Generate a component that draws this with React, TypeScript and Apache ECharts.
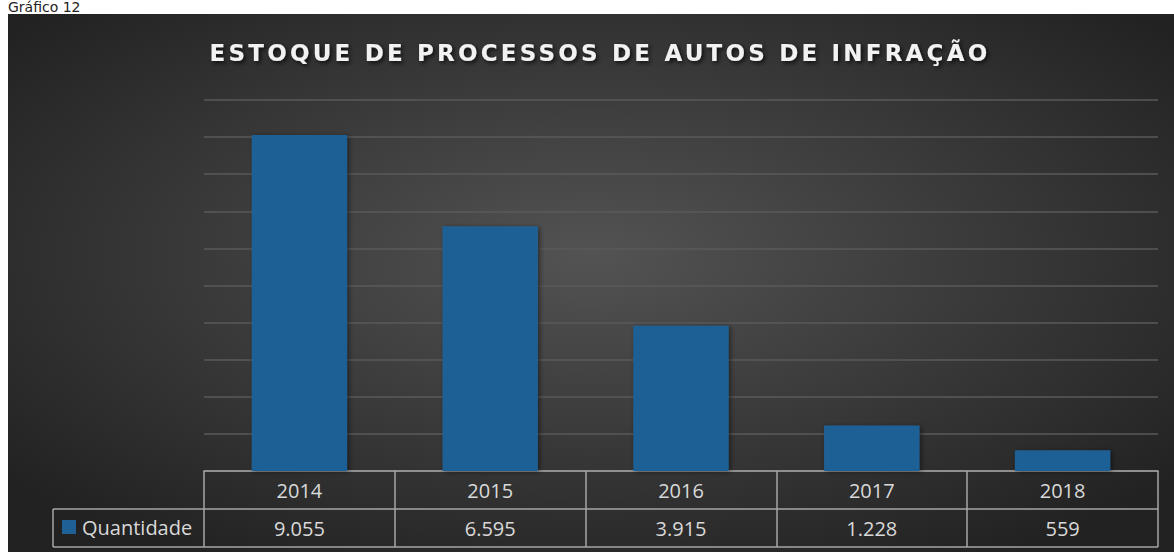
import React, { useEffect, useRef } from "react";
import * as echarts from "echarts";

const categories = ["2014", "2015", "2016", "2017", "2018"];
const quantidade = [9055, 6595, 3915, 1228, 559];
const seriesName = "Quantidade";
const titleText = "ESTOQUE DE PROCESSOS DE AUTOS DE INFRAÇÃO";
const captionText = "Gráfico 12";

const fmt = (n: number) => String(n).replace(/\B(?=(\d{3})+(?!\d))/g, ".");

export default function App() {
  const ref = useRef<HTMLDivElement>(null);
  useEffect(() => {
    if (!ref.current) return;
    const chart = echarts.init(ref.current, null, { renderer: "svg" });
    const lineColor = "#a6a6a6";
    const font = "'Open Sans', 'Noto Sans', sans-serif";
    chart.setOption({
      animation: false,
      backgroundColor: "#ffffff",
      title: {
        text: titleText,
        left: 595,
        top: 36,
        textAlign: "center",
        textStyle: {
          color: "#f2f2f2",
          fontFamily: "DejaVu Sans, Verdana, sans-serif",
          fontWeight: "bold",
          fontSize: 23,
          textShadowColor: "rgba(0,0,0,0.75)",
          textShadowBlur: 4,
          textShadowOffsetX: 2,
          textShadowOffsetY: 2,
        },
      },
      legend: {
        data: [seriesName],
        left: 62,
        top: 517,
        padding: 0,
        icon: "rect",
        itemWidth: 14,
        itemHeight: 14,
        itemGap: 5,
        textStyle: { color: "#d9d9d9", fontSize: 20, fontFamily: font, padding: [0, 0, 0, 1] },
        selectedMode: false,
      },
      grid: { left: 204, right: 16, top: 100, bottom: 81, containLabel: false },
      xAxis: {
        type: "category",
        data: categories,
        axisLine: { show: true, lineStyle: { color: lineColor, width: 1.5 } },
        axisTick: { show: true, length: 76, lineStyle: { color: lineColor, width: 1.5 } },
        axisLabel: {
          margin: 1,
          interval: 0,
          formatter: (v: string, i: number) => `{a|${v}}\n{b|${fmt(quantidade[i])}}`,
          rich: {
            a: { color: "#d9d9d9", fontSize: 20, fontFamily: font, lineHeight: 37, align: "center" },
            b: { color: "#d9d9d9", fontSize: 20, fontFamily: font, lineHeight: 38, align: "center" },
          },
        },
        splitLine: { show: false },
      },
      yAxis: {
        type: "value",
        min: 0,
        max: 10000,
        interval: 1000,
        axisLabel: { show: false },
        axisLine: { show: false },
        axisTick: { show: false },
        splitLine: { show: true, lineStyle: { color: "#5a5a5a", width: 1.5 } },
      },
      graphic: [
        {
          type: "rect",
          z: -100,
          silent: true,
          shape: { x: 8, y: 14, width: 1166, height: 538 },
          style: {
            fill: new echarts.graphic.RadialGradient(0.5, 0.45, 0.65, [
              { offset: 0, color: "#535353" },
              { offset: 1, color: "#222222" },
            ]),
          },
        },
        {
          type: "text",
          x: 8,
          y: 0,
          style: {
            text: captionText,
            fill: "#222222",
            font: "14px 'DejaVu Sans', Verdana, sans-serif",
            lineHeight: 14,
            textVerticalAlign: "top",
          },
        },
        {
          type: "line",
          shape: { x1: 53, y1: 509, x2: 1158, y2: 509 },
          style: { stroke: lineColor, lineWidth: 1.5 },
        },
        {
          type: "line",
          shape: { x1: 53, y1: 547, x2: 1158, y2: 547 },
          style: { stroke: lineColor, lineWidth: 1.5 },
        },
        {
          type: "line",
          shape: { x1: 53, y1: 509, x2: 53, y2: 547 },
          style: { stroke: lineColor, lineWidth: 1.5 },
        },
      ],
      series: [
        {
          name: seriesName,
          type: "bar",
          data: quantidade,
          barWidth: "50%",
          itemStyle: {
            color: "#1f6096",
            shadowColor: "rgba(0,0,0,0.45)",
            shadowBlur: 5,
            shadowOffsetX: 2,
            shadowOffsetY: 1,
          },
        },
      ],
    });
    const svg = ref.current.querySelector("svg");
    if (svg) {
      svg.querySelectorAll("text").forEach((t) => {
        if (t.textContent === titleText) {
          (t as SVGTextElement).style.letterSpacing = "3.2px";
        }
      });
    }
    return () => chart.dispose();
  }, []);
  return (
    <div
      ref={ref}
      style={{ position: "absolute", left: 0, top: 0, width: 1174, height: 552 }}
    />
  );
}
